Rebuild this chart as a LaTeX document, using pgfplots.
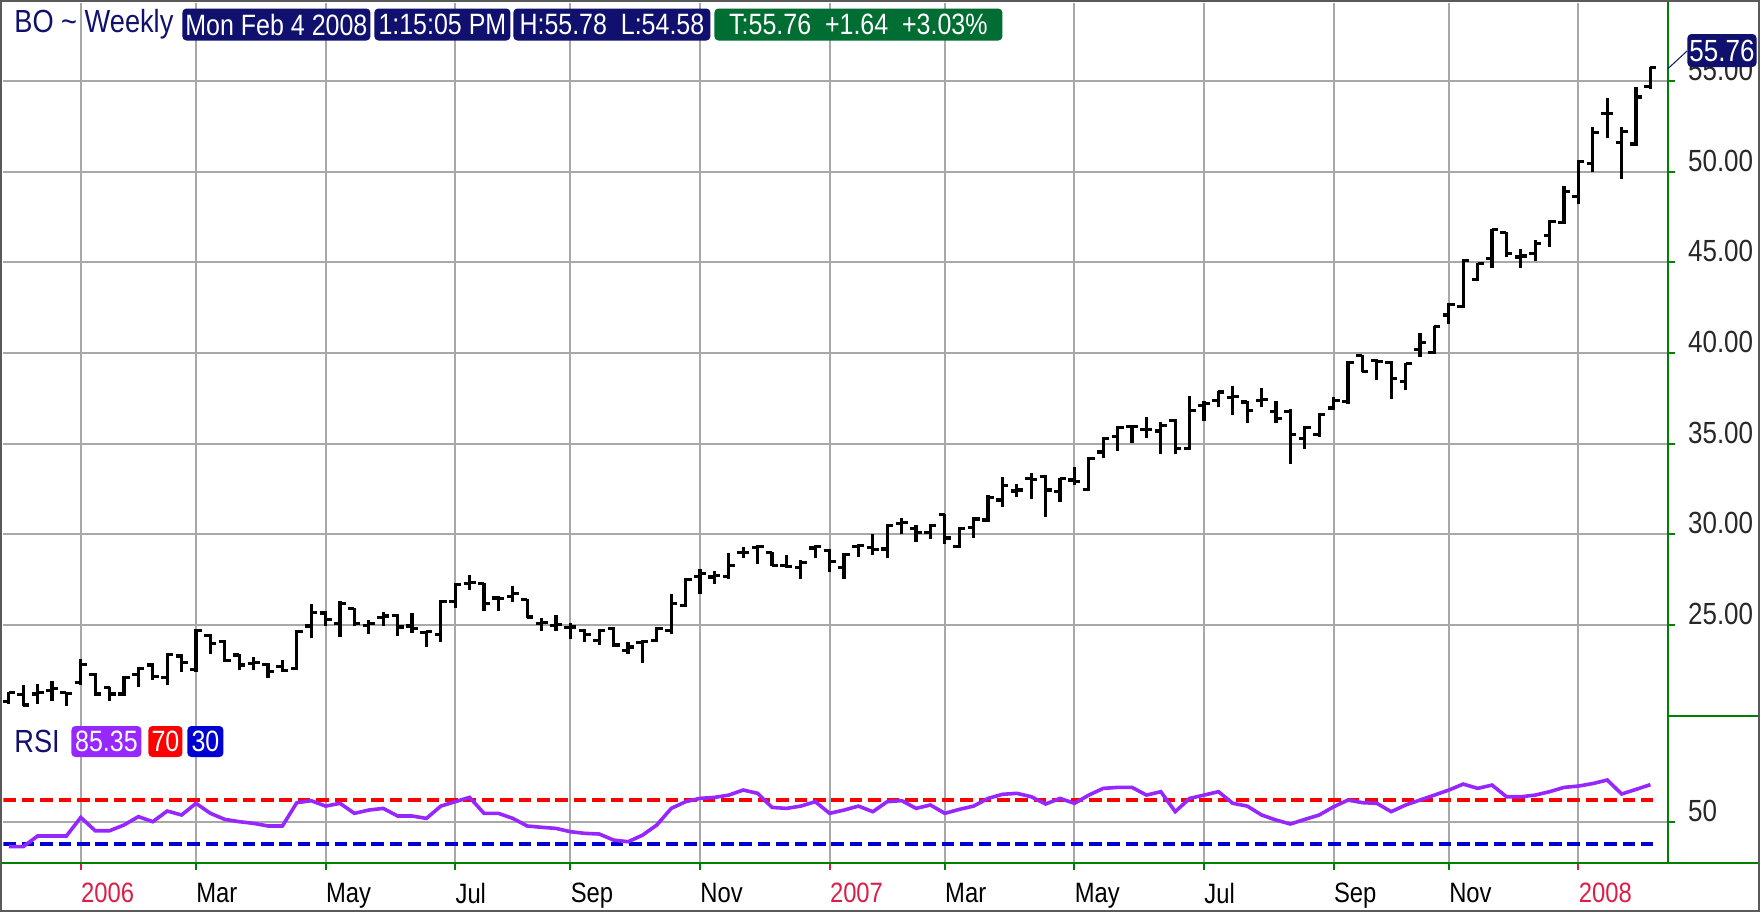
\documentclass[border=0pt]{standalone}
\usepackage{pgfplots}
\usepackage{pgfplotstable}
\pgfplotsset{compat=1.18}
\usepackage{fontspec}
\setmainfont{Liberation Sans}
\newfontfamily\cond{Liberation Sans}[FakeStretch=0.85]
\definecolor{navybox}{RGB}{16,16,110}
\definecolor{greenbox}{RGB}{0,110,50}
\definecolor{axgreen}{RGB}{0,128,0}
\definecolor{gridgray}{RGB}{168,168,168}
\definecolor{rsipurple}{RGB}{150,40,255}
\definecolor{yearred}{RGB}{220,30,70}
\definecolor{rsired}{RGB}{255,0,0}
\definecolor{rsiblue}{RGB}{0,0,210}
\definecolor{framegray}{RGB}{90,90,90}
\definecolor{labelgray}{RGB}{40,40,40}

\pgfdeclareplotmark{opentick}{\pgfpathmoveto{\pgfqpoint{-3pt}{0pt}}\pgfpathlineto{\pgfqpoint{0pt}{0pt}}\pgfusepathqstroke}
\pgfdeclareplotmark{closetick}{\pgfpathmoveto{\pgfqpoint{0pt}{0pt}}\pgfpathlineto{\pgfqpoint{3pt}{0pt}}\pgfusepathqstroke}

\pgfplotstableread{
i o h l c
0 20.8 21.34 20.67 21.27
1 21.19 21.72 20.52 20.6
2 21.2 21.75 20.67 21.3
3 21.4 21.9 20.82 21.5
4 21.27 21.34 20.52 21.25
5 21.85 23.15 21.72 22.85
6 22.3 22.35 21.12 21.2
7 21.55 21.6 20.82 21.2
8 21.2 22.2 21.1 22.1
9 22.3 22.69 21.57 22.6
10 22.8 22.9 21.98 22.15
11 22.1 23.47 21.72 23.4
12 23.3 23.4 22.4 22.95
13 22.55 24.78 22.4 24.7
14 24.45 24.5 23.4 24.0
15 24.1 24.2 22.97 23.05
16 23.35 23.43 22.54 22.8
17 22.9 23.25 22.5 22.95
18 22.85 22.9 22.1 22.45
19 22.7 23.06 22.4 22.5
20 22.6 24.74 22.54 24.65
21 24.95 26.19 24.27 25.7
22 25.67 25.76 24.93 25.3
23 25.07 26.32 24.36 26.19
24 25.9 25.96 24.93 25.1
25 25.0 25.3 24.5 25.1
26 25.4 25.7 24.93 25.5
27 25.55 25.6 24.4 24.9
28 24.95 25.67 24.55 24.8
29 24.6 24.7 23.8 24.65
30 24.5 26.4 24.06 26.3
31 26.3 27.3 25.94 27.25
32 27.3 27.75 26.93 27.35
33 27.3 27.34 25.8 26.2
34 26.5 26.6 25.8 26.45
35 26.6 27.15 26.25 26.75
36 26.4 26.44 25.37 25.45
37 25.1 25.37 24.68 25.15
38 25.0 25.56 24.68 25.05
39 24.85 25.1 24.25 24.9
40 24.7 24.8 24.06 24.5
41 24.15 24.8 23.9 24.7
42 24.8 24.9 23.8 23.9
43 23.6 24.06 23.4 23.8
44 24.06 24.16 22.94 24.1
45 24.15 24.9 24.06 24.8
46 24.7 26.7 24.53 26.2
47 26.07 27.6 25.99 27.5
48 27.7 28.1 26.7 27.85
49 27.65 28.0 27.25 27.75
50 27.7 28.98 27.53 28.3
51 29.0 29.3 28.7 29.0
52 29.3 29.44 28.37 29.35
53 29.0 29.06 28.24 28.3
54 28.3 28.84 28.13 28.25
55 28.2 28.6 27.53 28.45
56 29.25 29.44 28.7 29.35
57 29.1 29.2 27.94 28.5
58 28.2 28.99 27.53 28.9
59 29.35 29.5 28.75 29.4
60 29.3 30.0 28.84 29.15
61 29.2 30.6 28.7 30.5
62 30.6 30.88 30.0 30.65
63 30.35 30.5 29.6 30.1
64 30.1 30.6 29.74 30.5
65 31.1 31.15 29.45 29.8
66 29.35 30.42 29.27 30.35
67 30.4 30.97 29.8 30.85
68 30.8 32.16 30.7 32.05
69 31.9 33.17 31.52 32.7
70 32.4 32.8 32.07 32.45
71 33.1 33.4 31.94 33.05
72 33.2 33.26 30.97 32.45
73 32.35 33.11 31.8 33.07
74 33.0 33.7 32.7 32.9
75 32.5 34.27 32.38 34.2
76 34.55 35.37 34.2 35.3
77 35.4 36.0 34.58 35.9
78 35.95 36.04 35.05 35.97
79 35.8 36.46 35.31 35.8
80 35.7 36.19 34.45 36.0
81 36.3 36.34 34.45 34.73
82 34.75 37.62 34.63 36.83
83 37.1 37.38 36.28 37.2
84 37.4 37.93 37.01 37.85
85 37.55 38.2 36.56 37.6
86 37.3 37.38 36.15 36.83
87 37.4 38.06 37.0 37.45
88 36.8 37.38 36.15 36.4
89 36.8 36.9 33.87 35.5
90 35.3 35.99 34.71 35.9
91 35.5 36.69 35.37 36.6
92 36.97 37.57 36.84 37.4
93 37.33 39.54 37.2 39.48
94 39.85 39.9 38.93 38.98
95 39.6 39.66 38.49 39.55
96 39.48 39.54 37.46 38.6
97 38.43 39.48 37.94 39.44
98 40.2 41.1 39.81 40.6
99 40.03 41.5 39.96 41.46
100 42.1 42.75 41.61 42.66
101 42.57 45.17 42.47 45.1
102 44.07 44.99 44.0 44.92
103 45.23 46.83 44.68 46.8
104 46.65 46.7 45.28 45.5
105 45.3 45.73 44.68 45.35
106 45.5 46.24 45.1 46.05
107 46.5 47.34 45.84 47.25
108 47.2 49.21 47.12 48.9
109 48.63 50.65 48.22 50.56
110 50.46 52.45 50.0 52.15
111 53.2 54.04 51.84 53.2
112 51.6 52.45 49.58 52.2
113 51.53 54.69 51.42 54.12
114 54.7 55.78 54.58 55.76
}\ohlc

\pgfplotstableread{
i r
0 27.6
1 27.6
2 37.3
3 37.3
4 37.3
5 54.2
6 42.1
7 42.1
8 47.3
9 54.9
10 50.3
11 60.0
12 56.4
13 67.0
14 57.9
15 52.4
16 50.3
17 48.8
18 46.4
19 46.4
20 67.6
21 69.4
22 64.5
23 67.0
24 57.9
25 60.9
26 62.4
27 55.5
28 55.5
29 53.3
30 64.5
31 68.5
32 72.4
33 57.9
34 57.9
35 53.3
36 46.4
37 45.2
38 44.2
39 41.2
40 39.7
41 39.1
42 33.6
43 32.1
44 38.0
45 47.3
46 62.4
47 68.5
48 71.5
49 72.4
50 74.5
51 79.1
52 76.1
53 63.3
54 62.4
55 64.5
56 68.5
57 57.9
58 60.9
59 64.5
60 59.4
61 68.5
62 69.5
63 62.4
64 65.5
65 57.9
66 61.5
67 64.5
68 71.5
69 75.2
70 76.1
71 73.0
72 66.4
73 71.5
74 67.0
75 74.5
76 80.6
77 81.5
78 81.5
79 74.5
80 77.6
81 59.4
82 71.5
83 74.5
84 77.6
85 67.0
86 64.5
87 56.4
88 51.8
89 48.2
90 52.4
91 56.4
92 63.9
93 70.0
94 67.6
95 67.0
96 59.4
97 65.5
98 70.0
99 74.5
100 79.1
101 84.5
102 80.6
103 83.6
104 73.0
105 73.0
106 74.5
107 77.6
108 81.5
109 82.7
110 85.0
111 88.2
112 75.5
113 79.7
114 84.0
}\rsi

\begin{document}
\begin{tikzpicture}
\useasboundingbox (0pt,0pt) rectangle (880pt,-456pt);
\fill[white] (0pt,0pt) rectangle (880pt,-456pt);

% price panel
\begin{axis}[
  at={(1.7pt,-1.5pt)}, anchor=north west,
  scale only axis, width=832.3pt, height=356.5pt,
  xmin=-0.375, xmax=115.22, ymin=19.99, ymax=59.3,
  axis line style={draw=none},
  xtick={5,13,22,31,39,48,57,65,74,83,92,100,109}, xticklabels={},
  major x tick style={draw=none},
  ytick={25,30,...,55}, ytick pos=right, yticklabel pos=right,
  tick align=outside, major tick length=3.5pt,
  major y tick style={draw=axgreen, line width=1pt},
  grid=major, grid style={gridgray, line width=1pt},
  yticklabel style={/pgf/number format/fixed, /pgf/number format/fixed zerofill,
    /pgf/number format/precision=2, /pgf/number format/assume math mode=true,
    font=\cond\fontsize{15.3}{15.3}\selectfont, text=labelgray, anchor=west,
    xshift=3pt, yshift=5.5pt},
]
\addplot[draw=none, mark=none, forget plot,
  error bars/.cd, y dir=plus, y explicit, error mark=none,
  error bar style={draw=black, solid, line width=1.6pt}]
  table[x=i, y=l, y error expr=\thisrow{h}-\thisrow{l}] {\ohlc};
\addplot[only marks, mark=opentick, mark options={draw=black, solid, line width=1.6pt}]
  table[x=i, y=o] {\ohlc};
\addplot[only marks, mark=closetick, mark options={draw=black, solid, line width=1.6pt}]
  table[x=i, y=c] {\ohlc};
\end{axis}

% RSI panel
\begin{axis}[
  at={(1.7pt,-358pt)}, anchor=north west,
  scale only axis, width=832.3pt, height=73.35pt,
  xmin=-0.375, xmax=115.22, ymin=13, ymax=146.4,
  axis line style={draw=none},
  xtick={13,22,31,39,48,65,74,83,92,100},
  xticklabels={Mar,May,Jul,Sep,Nov,Mar,May,Jul,Sep,Nov},
  extra x ticks={5,57,109},
  extra x tick labels={2006,2007,2008},
  extra x tick style={grid=major, major x tick style={draw=yearred, line width=1pt},
     xticklabel style={text=yearred}},
  xtick pos=left,
  major x tick style={draw=axgreen, line width=1pt},
  ytick={50}, ytick pos=right, yticklabel pos=right,
  tick align=outside, major tick length=3.5pt,
  major y tick style={draw=axgreen, line width=1pt},
  grid=major, grid style={gridgray, line width=1pt},
  xticklabel style={font=\cond\fontsize{14}{14}\selectfont, anchor=north west, inner sep=0pt, yshift=-6.5pt, text=black},
  yticklabel style={/pgf/number format/assume math mode=true,
    font=\cond\fontsize{15.3}{15.3}\selectfont, text=labelgray, anchor=west,
    xshift=3pt, yshift=5.5pt},
]
\addplot[rsired, line width=2pt, dash pattern=on 6.3pt off 2.9pt] coordinates {(-0.375,70) (114.2,70)};
\addplot[rsiblue, line width=2pt, dash pattern=on 6.3pt off 2.9pt] coordinates {(-0.375,30) (114.2,30)};
\addplot[rsipurple, line width=1.8pt] table[x=i, y=r] {\rsi};
\end{axis}

% frame lines
\draw[axgreen, line width=1pt] (834pt,0pt) -- (834pt,-431.35pt);
\draw[axgreen, line width=1pt] (834pt,-358pt) -- (880pt,-358pt);
\draw[axgreen, line width=1pt] (0pt,-431.35pt) -- (880pt,-431.35pt);
\draw[framegray, line width=1.2pt] (0.6pt,-0.6pt) rectangle (879.4pt,-455.4pt);

% title
\begin{scope}[every node/.style={font=\cond\fontsize{14.7}{14.7}\selectfont, inner sep=1pt}]
\node[anchor=west, text=navybox, font=\cond\fontsize{16}{16}\selectfont] at (6pt,-12.25pt) {BO \textasciitilde\ Weekly};
\node[anchor=west, fill=navybox, text=white, rounded corners=2pt, minimum width=94pt, minimum height=16pt] at (91pt,-12.25pt) {Mon Feb 4 2008};
\node[anchor=west, fill=navybox, text=white, rounded corners=2pt, minimum width=68pt, minimum height=16pt] at (187pt,-12.25pt) {1:15:05 PM};
\node[anchor=west, fill=navybox, text=white, rounded corners=2pt, minimum width=98.5pt, minimum height=16pt] at (256.5pt,-12.25pt) {H:55.78\ \ L:54.58};
\node[anchor=west, fill=greenbox, text=white, rounded corners=2pt, minimum width=144pt, minimum height=16pt] at (357pt,-12.25pt) {T:55.76\ \ +1.64\ \ +3.03\%};
% last price marker
\draw[navybox, line width=0.5pt] (834pt,-34.3pt) -- (843.5pt,-25.5pt);
\node[anchor=west, fill=navybox, text=white, rounded corners=2pt, minimum width=34pt, minimum height=16.5pt, font=\cond\fontsize{15.3}{15.3}\selectfont] at (843.5pt,-25.25pt) {55.76};
% RSI legend
\node[anchor=west, text=navybox, font=\cond\fontsize{16}{16}\selectfont] at (6pt,-370.75pt) {RSI};
\node[anchor=west, fill=rsipurple, text=white, rounded corners=2pt, minimum width=35pt, minimum height=15.5pt] at (35.5pt,-370.75pt) {85.35};
\node[anchor=west, fill=rsired, text=white, rounded corners=2pt, minimum width=17pt, minimum height=15.5pt] at (74pt,-370.75pt) {70};
\node[anchor=west, fill=rsiblue, text=white, rounded corners=2pt, minimum width=18pt, minimum height=15.5pt] at (93.5pt,-370.75pt) {30};
\end{scope}
\end{tikzpicture}
\end{document}
